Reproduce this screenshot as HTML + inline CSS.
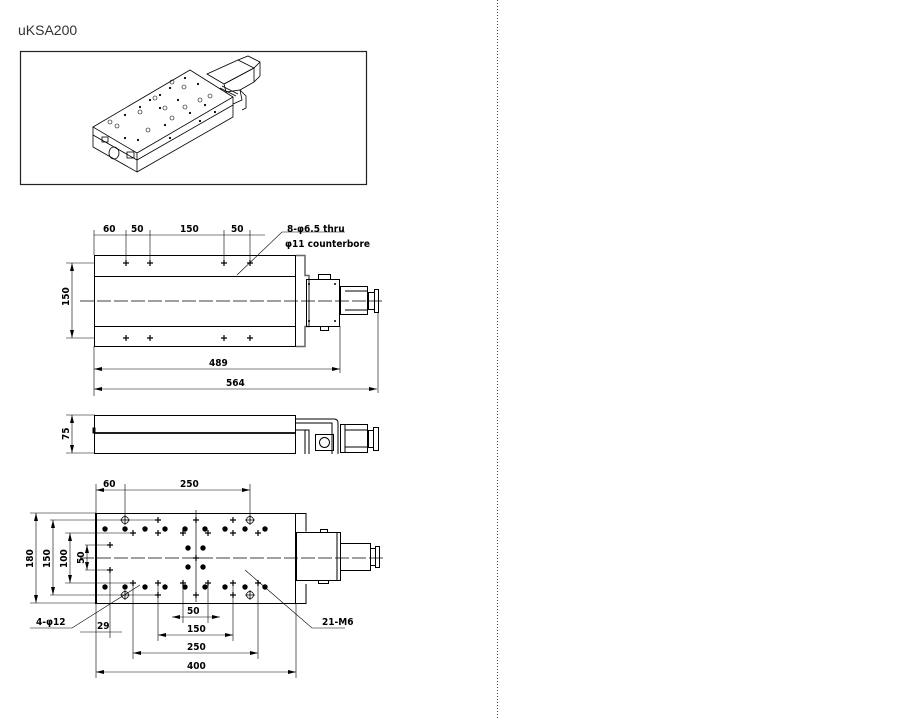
<!DOCTYPE html>
<html><head><meta charset="utf-8"><style>
html,body{margin:0;padding:0;background:#fff;}
svg{display:block}
text{font-family:"DejaVu Sans Condensed","Liberation Sans",sans-serif;font-weight:bold;font-size:10px;fill:#000}
</style></head><body>
<svg width="901" height="719" viewBox="0 0 901 719" xmlns="http://www.w3.org/2000/svg">
<defs>
<marker id="a" markerWidth="8" markerHeight="4" refX="8" refY="2" orient="auto-start-reverse" markerUnits="userSpaceOnUse"><path d="M0,0 L8,2 L0,4z" fill="#000"/></marker>
<g id="px"><path d="M-3,0h6M0,-3v6" stroke="#000" stroke-width="1.2"/></g>
<g id="cx"><circle r="3.5" fill="none" stroke="#000" stroke-width="0.8"/><path d="M-5,0h10M0,-5v10" stroke="#000" stroke-width="0.8"/></g>
</defs>
<text x="18" y="35" style="font-family:'Liberation Sans',sans-serif;font-weight:normal;font-size:14px;fill:#333">uKSA200</text>
<line x1="497.5" y1="0" x2="497.5" y2="719" stroke="#444" stroke-width="1" stroke-dasharray="1,2"/>
<rect x="20.5" y="51.5" width="346" height="133" fill="none" stroke="#222" stroke-width="1.2"/>
<!-- isometric -->
<g fill="none" stroke="#000" stroke-width="0.8">
<path d="M93,127 L190,70 L233,97 L137,153 Z"/>
<path d="M93,127 L93,147 L137,172 L137,153"/>
<path d="M137,172 L233,117 L233,97"/>
<path d="M93,135 L137,160 L233,105"/>
<path d="M207,74 L238,60 L254,68 L224,84 Z"/>
<path d="M224,84 L254,68 L254,82 L240,90"/>
<path d="M238,60 L248,56 L260,62 L260,76 L254,82 M254,68 L260,62"/>
<path d="M224,84 L226,92 L240,90 L242,100 L233,104 M240,90 L246,96 L246,108 L242,110"/>
<path d="M222,86 L238,94 M220,88 L236,96"/>
<ellipse cx="114" cy="153" rx="5" ry="6"/>
<rect x="102" y="137" width="6" height="5"/><rect x="127" y="152" width="7" height="6"/>
</g>
<g fill="none" stroke="#000" stroke-width="0.6">
<circle cx="172" cy="82" r="2"/><circle cx="184" cy="87" r="2"/><circle cx="155" cy="98" r="2"/><circle cx="165" cy="108" r="2"/><circle cx="140" cy="112" r="2"/><circle cx="110" cy="122" r="2"/><circle cx="117" cy="126" r="2"/><circle cx="200" cy="100" r="2"/><circle cx="210" cy="96" r="2"/><circle cx="148" cy="130" r="2"/><circle cx="172" cy="118" r="2"/><circle cx="185" cy="107" r="2"/>
</g>
<g fill="#000">
<circle cx="185" cy="78" r="1.1"/><circle cx="170" cy="88" r="1.1"/><circle cx="160" cy="95" r="1.1"/><circle cx="150" cy="100" r="1.1"/><circle cx="140" cy="107" r="1.1"/><circle cx="125" cy="115" r="1.1"/><circle cx="198" cy="84" r="1.1"/><circle cx="205" cy="105" r="1.1"/><circle cx="190" cy="113" r="1.1"/><circle cx="178" cy="100" r="1.1"/><circle cx="165" cy="125" r="1.1"/><circle cx="138" cy="140" r="1.1"/><circle cx="125" cy="138" r="1.1"/><circle cx="160" cy="108" r="1.1"/><circle cx="215" cy="112" r="1.1"/><circle cx="200" cy="121" r="1.1"/><circle cx="170" cy="138" r="1.1"/>
</g>
<!-- VIEW 1 -->
<g fill="none" stroke="#000" stroke-width="1">
<rect x="94.5" y="255.5" width="201" height="91"/>
<line x1="94" y1="276.5" x2="296" y2="276.5"/><line x1="94" y1="326.5" x2="296" y2="326.5"/>
<path d="M296,255.5h9v20h4v51h-4v20h-9" stroke="#666" stroke-width="1.5"/>
<rect x="306.5" y="279.5" width="33" height="47"/>
<rect x="318.5" y="274.5" width="12" height="5"/><rect x="320.5" y="326.5" width="8" height="4"/>
<rect x="340.5" y="286.5" width="27" height="28"/>
<path d="M345,291h22M345,310h22"/>
<rect x="368.5" y="292.5" width="6" height="17"/><rect x="374.5" y="289.5" width="4" height="23"/>
</g>
<g fill="#000"><circle cx="309" cy="284" r="1"/><circle cx="335" cy="284" r="1"/><circle cx="309" cy="321" r="1"/><circle cx="335" cy="321" r="1"/></g>
<line x1="80" y1="301" x2="382" y2="301" stroke="#000" stroke-width="0.7" stroke-dasharray="14,3"/>
<g><use href="#px" x="126" y="263"/><use href="#px" x="150" y="263"/><use href="#px" x="224" y="263"/><use href="#px" x="250" y="263"/><use href="#px" x="126" y="338"/><use href="#px" x="150" y="338"/><use href="#px" x="224" y="338"/><use href="#px" x="250" y="338"/></g>
<g stroke="#000" stroke-width="0.6" fill="none">
<path d="M94,230v25M126,230v33M150,230v33M224,230v33M250,230v33"/>
<line x1="94" y1="235" x2="265" y2="235"/>
<path d="M66,263h29M66,338h29"/>
<line x1="72" y1="263" x2="72" y2="338" marker-start="url(#a)" marker-end="url(#a)"/>
<path d="M94,346v50M340,326v47M378,313v80"/>
<line x1="94" y1="369" x2="340" y2="369" marker-start="url(#a)" marker-end="url(#a)"/>
<line x1="94" y1="389" x2="377" y2="389" marker-start="url(#a)" marker-end="url(#a)"/>
<path d="M237,275L282,232H345"/>
</g>
<text x="103" y="232">60</text><text x="131" y="232">50</text><text x="180" y="232">150</text><text x="231" y="232">50</text>
<text x="287" y="232">8-φ6.5 thru</text><text x="285" y="247">φ11 counterbore</text>
<text x="209" y="366">489</text><text x="226" y="386">564</text>
<text transform="translate(69,306) rotate(-90)">150</text>
<!-- VIEW 2 -->
<g fill="none" stroke="#000" stroke-width="1">
<rect x="94.5" y="415.5" width="201" height="38"/>
<line x1="95" y1="433" x2="296" y2="433" stroke-width="1.8"/>
<rect x="93" y="428" width="2" height="5" fill="#000"/>
<path d="M296,419h38q4,0 4,4v31M296,423h36v31M296,430h13v24M305,430v24"/>
<rect x="315.5" y="434.5" width="18" height="16"/><circle cx="324.5" cy="442.5" r="5"/>
<rect x="340.5" y="424.5" width="27" height="28"/><path d="M345,424v29M345,430h22M345,447h22"/>
<rect x="368.5" y="430.5" width="5" height="17"/><rect x="373.5" y="427.5" width="5" height="23"/>
</g>
<g stroke="#000" stroke-width="0.6"><path d="M66,415h29M66,453h29"/><line x1="72" y1="415" x2="72" y2="453" marker-start="url(#a)" marker-end="url(#a)"/></g>
<text transform="translate(69,440) rotate(-90)">75</text>
<!-- VIEW 3 -->
<g fill="none" stroke="#000" stroke-width="1">
<rect x="96.5" y="513.5" width="199" height="90"/>
<line x1="96" y1="513" x2="96" y2="604" stroke-width="2"/>
<path d="M296,513.5h10v18M306,584v19.5h-10"/>
<rect x="296.5" y="532.5" width="44" height="48"/><path d="M337,533v48"/>
<rect x="320.5" y="529.5" width="7" height="3"/><rect x="318.5" y="580.5" width="10" height="3"/>
<rect x="340.5" y="543.5" width="30" height="27"/>
<rect x="370.5" y="548.5" width="5" height="17"/><rect x="375.5" y="546.5" width="4" height="21"/>
</g>
<line x1="80" y1="558" x2="385" y2="558" stroke="#000" stroke-width="0.7" stroke-dasharray="14,3"/>
<line x1="196" y1="510" x2="196" y2="602" stroke="#000" stroke-width="0.7"/>
<g fill="#000">
<circle cx="105" cy="529" r="2.7"/><circle cx="125" cy="529" r="2.7"/><circle cx="145" cy="529" r="2.7"/><circle cx="165" cy="529" r="2.7"/><circle cx="185" cy="529" r="2.7"/><circle cx="205" cy="529" r="2.7"/><circle cx="225" cy="529" r="2.7"/><circle cx="245" cy="529" r="2.7"/><circle cx="265" cy="529" r="2.7"/>
<circle cx="105" cy="587" r="2.7"/><circle cx="125" cy="587" r="2.7"/><circle cx="145" cy="587" r="2.7"/><circle cx="165" cy="587" r="2.7"/><circle cx="185" cy="587" r="2.7"/><circle cx="205" cy="587" r="2.7"/><circle cx="225" cy="587" r="2.7"/><circle cx="245" cy="587" r="2.7"/><circle cx="265" cy="587" r="2.7"/>
<circle cx="188" cy="548" r="2.7"/><circle cx="203" cy="548" r="2.7"/><circle cx="188" cy="567" r="2.7"/><circle cx="203" cy="567" r="2.7"/>
</g>
<g><use href="#cx" x="125" y="520"/><use href="#cx" x="250" y="520"/><use href="#cx" x="125" y="595"/><use href="#cx" x="250" y="595"/>
<use href="#px" x="158" y="520"/><use href="#px" x="133" y="533"/><use href="#px" x="158" y="533"/><use href="#px" x="183" y="533"/><use href="#px" x="208" y="533"/><use href="#px" x="233" y="533"/><use href="#px" x="258" y="533"/><use href="#px" x="233" y="520"/><use href="#px" x="196" y="520"/>
<use href="#px" x="110" y="545"/><use href="#px" x="110" y="570"/><use href="#px" x="196" y="558"/>
<use href="#px" x="133" y="583"/><use href="#px" x="158" y="583"/><use href="#px" x="183" y="583"/><use href="#px" x="208" y="583"/><use href="#px" x="233" y="583"/><use href="#px" x="258" y="583"/><use href="#px" x="158" y="595"/><use href="#px" x="233" y="595"/><use href="#px" x="196" y="595"/></g>
<g stroke="#000" stroke-width="0.6" fill="none">
<path d="M96,484v29M125,484v36M250,484v36"/>
<line x1="96" y1="490" x2="250" y2="490" marker-start="url(#a)" marker-end="url(#a)"/>
<path d="M30,513h66M30,603h66M50,520h108M50,595h108M65,533h68M65,583h68M85,545h25M85,570h25"/>
<line x1="36" y1="513" x2="36" y2="603" marker-start="url(#a)" marker-end="url(#a)"/>
<line x1="53" y1="520" x2="53" y2="595" marker-start="url(#a)" marker-end="url(#a)"/>
<line x1="70" y1="533" x2="70" y2="583" marker-start="url(#a)" marker-end="url(#a)"/>
<line x1="87" y1="545" x2="87" y2="570" marker-start="url(#a)" marker-end="url(#a)"/>
<path d="M183,583v40M208,583v40M158,583v58M233,583v58M133,583v76M258,583v76M96,603v75M296,603v75M110,570v68"/>
<line x1="172" y1="617" x2="220" y2="617" marker-start="url(#a)" marker-end="url(#a)"/>
<line x1="158" y1="635" x2="233" y2="635" marker-start="url(#a)" marker-end="url(#a)"/>
<line x1="133" y1="653" x2="258" y2="653" marker-start="url(#a)" marker-end="url(#a)"/>
<line x1="96" y1="672" x2="296" y2="672" marker-start="url(#a)" marker-end="url(#a)"/>
<path d="M80,632h42"/>
<path d="M30,628H72L140,585"/>
<path d="M245,570L312,628H345"/>
</g>
<text x="187" y="614">50</text><text x="187" y="632">150</text><text x="187" y="650">250</text><text x="187" y="669">400</text>
<text x="103" y="487">60</text><text x="180" y="487">250</text>
<text x="97" y="629">29</text><text x="36" y="625">4-φ12</text><text x="322" y="625">21-M6</text>
<text transform="translate(33,568) rotate(-90)">180</text>
<text transform="translate(50,568) rotate(-90)">150</text>
<text transform="translate(67,568) rotate(-90)">100</text>
<text transform="translate(84,564) rotate(-90)">50</text>
</svg>
</body></html>
